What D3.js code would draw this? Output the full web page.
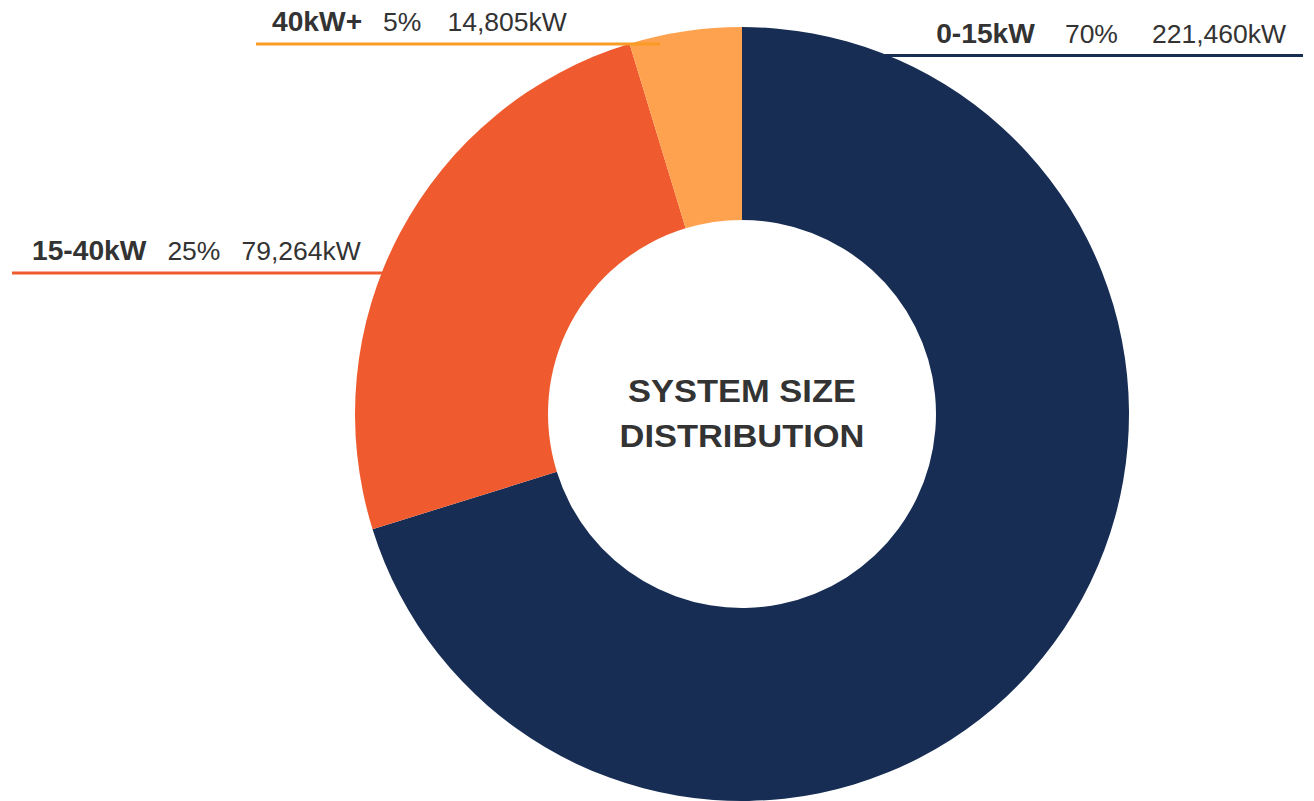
<!DOCTYPE html>
<html>
<head>
<meta charset="utf-8">
<script src="https://cdn.jsdelivr.net/npm/d3@7"></script>
<style>
  html, body { margin: 0; padding: 0; background: #ffffff; }
  svg { display: block; }
</style>
</head>
<body>
<svg id="chart" width="1314" height="801"></svg>
<script>
// ---- data ----
const categories = ["0-15kW", "15-40kW", "40kW+"];
const capacityKW = [221460, 79264, 14805];
const sliceColors = ["#172D54", "#EF5B2F", "#FFA24F"];
const leaderColors = ["#172D54", "#EF5B2F", "#F99B25"];
const centerTitle = ["SYSTEM SIZE", "DISTRIBUTION"];

// ---- label layout (annotation placement) ----
const labelLayout = [
  { side: "right", lineY: 55.5, outerX: 1303, textX: 1286, gaps: [30, 34] },
  { side: "left",  lineY: 273,  outerX: 12,   textX: 32,   gaps: [21, 21] },
  { side: "left",  lineY: 44,   outerX: 256,  textX: 272,  gaps: [21, 26] }
];

const W = 1314, H = 801;
const cx = 742, cy = 414, R = 387, r = 194;
const svg = d3.select("#chart");
const font = "'Liberation Sans', Arial, Helvetica, sans-serif";

const data = categories.map((c, i) => ({ cat: c, value: capacityKW[i], i }));
const total = d3.sum(capacityKW);

const pie = d3.pie().value(d => d.value).sort(null);
const arc = d3.arc().innerRadius(r).outerRadius(R);
const color = d3.scaleOrdinal().domain(categories).range(sliceColors);
const lineColor = d3.scaleOrdinal().domain(categories).range(leaderColors);

const g = svg.append("g").attr("transform", `translate(${cx},${cy})`);
const arcs = pie(data);

g.selectAll("path.slice")
  .data(arcs)
  .join("path")
  .attr("class", "slice")
  .attr("d", arc)
  .attr("fill", d => color(d.data.cat));

// leader lines + labels
const fmt = d3.format(",");
arcs.forEach((a, i) => {
  const L = labelLayout[i];
  const dy = L.lineY - cy;
  const rr = R - 8;
  const dx = Math.sqrt(Math.max(0, rr * rr - dy * dy));
  const innerX = L.side === "right" ? cx + dx : cx - dx;
  svg.append("line")
    .attr("x1", innerX).attr("x2", L.outerX)
    .attr("y1", L.lineY).attr("y2", L.lineY)
    .attr("stroke", lineColor(a.data.cat))
    .attr("stroke-width", 3);

  const pct = Math.round(a.data.value / total * 100) + "%";
  const t = svg.append("text")
    .attr("x", L.textX)
    .attr("y", L.lineY - 13)
    .attr("text-anchor", L.side === "right" ? "end" : "start")
    .attr("font-family", font)
    .attr("font-size", 26.5)
    .attr("fill", "#333333");
  t.append("tspan").attr("font-weight", "bold").attr("font-size", 28.2).text(a.data.cat);
  t.append("tspan").attr("dx", L.gaps[0]).text(pct);
  t.append("tspan").attr("dx", L.gaps[1]).text(fmt(a.data.value) + "kW");
});

// center title
svg.append("g")
  .attr("transform", `translate(${cx},0) scale(1.13,1)`)
  .append("text")
  .attr("x", 0).attr("y", 402)
  .attr("text-anchor", "middle")
  .attr("font-family", font)
  .attr("font-weight", "bold")
  .attr("font-size", 30.5)
  .attr("fill", "#333333")
  .selectAll("tspan")
  .data(centerTitle)
  .join("tspan")
  .attr("x", 0)
  .attr("dy", (d, i) => i === 0 ? 0 : 45)
  .text(d => d);
</script>
</body>
</html>
